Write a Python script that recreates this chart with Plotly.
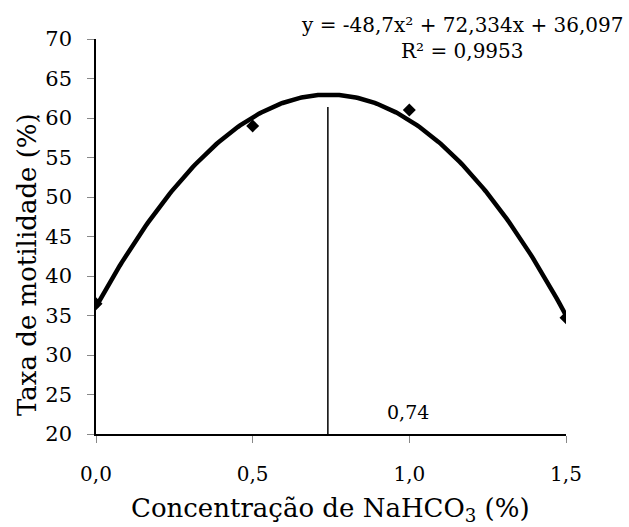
import numpy as np
import plotly.graph_objects as go

x_obs = [0.0, 0.5, 1.0, 1.5]
y_obs = [36.5, 59.0, 61.0, 34.7]
coef = [-48.7, 72.334, 36.097]
x_opt = 0.74
x_ticks = [0.0, 0.5, 1.0, 1.5]
x_ticklabels = ["0,0", "0,5", "1,0", "1,5"]
y_ticks = [20, 25, 30, 35, 40, 45, 50, 55, 60, 65, 70]

FONT = "DejaVu Serif"

xc = np.linspace(0, 1.5, 200)
yc = coef[0] * xc**2 + coef[1] * xc + coef[2]
y_line_top = 61.4

fig = go.Figure()
fig.add_trace(go.Scatter(x=xc, y=yc, mode="lines",
                         line=dict(color="black", width=4.5), hoverinfo="skip"))
fig.add_trace(go.Scatter(x=x_obs, y=y_obs, mode="markers",
                         marker=dict(symbol="diamond", color="black", size=10)))
fig.add_trace(go.Scatter(x=[x_opt, x_opt], y=[20, y_line_top], mode="lines",
                         line=dict(color="black", width=1.5)))

fig.update_layout(
    width=629, height=527,
    margin=dict(l=96, r=63, t=39, b=93),
    paper_bgcolor="white", plot_bgcolor="white",
    showlegend=False,
    font=dict(family=FONT, size=20, color="black"),
    xaxis=dict(range=[0, 1.5], tickvals=x_ticks, ticktext=x_ticklabels,
               showgrid=False, zeroline=False, showline=True,
               linecolor="black", linewidth=1.5,
               ticks="outside", ticklen=7, tickcolor="#888", tickwidth=1,
               ticklabelstandoff=14,
               tickfont=dict(family=FONT, size=20)),
    yaxis=dict(range=[20, 70], tickvals=y_ticks,
               showgrid=False, zeroline=False, showline=True,
               linecolor="black", linewidth=1.5,
               ticks="outside", ticklen=7, tickcolor="#888", tickwidth=1,
               ticklabelstandoff=11,
               tickfont=dict(family=FONT, size=21)),
)

fig.add_annotation(xref="paper", yref="paper", x=(27-96)/470, y=(434-265)/395,
                   text="Taxa de motilidade (%)", textangle=-90, showarrow=False,
                   xanchor="center", yanchor="middle",
                   font=dict(family=FONT, size=26))
fig.add_annotation(xref="paper", yref="paper", x=(33-96)/470, y=(434-97)/395,
                   text=".", showarrow=False, font=dict(family=FONT, size=20))
fig.add_annotation(xref="paper", yref="paper", x=(330-96)/470, y=(434-510)/395,
                   text="Concentração de NaHCO<sub>3</sub> (%)", showarrow=False,
                   xanchor="center", yanchor="middle",
                   font=dict(family=FONT, size=26))
fig.add_annotation(xref="paper", yref="paper", x=(462-96)/470, y=(434-25)/395,
                   text="y = -48,7x² + 72,334x + 36,097", showarrow=False,
                   xanchor="center", yanchor="middle",
                   font=dict(family=FONT, size=20))
fig.add_annotation(xref="paper", yref="paper", x=(462-96)/470, y=(434-51)/395,
                   text="R² = 0,9953", showarrow=False,
                   xanchor="center", yanchor="middle",
                   font=dict(family=FONT, size=20))
fig.add_annotation(xref="paper", yref="paper", x=(408-96)/470, y=(434-412)/395,
                   text="0,74", showarrow=False,
                   xanchor="center", yanchor="middle",
                   font=dict(family=FONT, size=19))

fig.write_html("out.html")
